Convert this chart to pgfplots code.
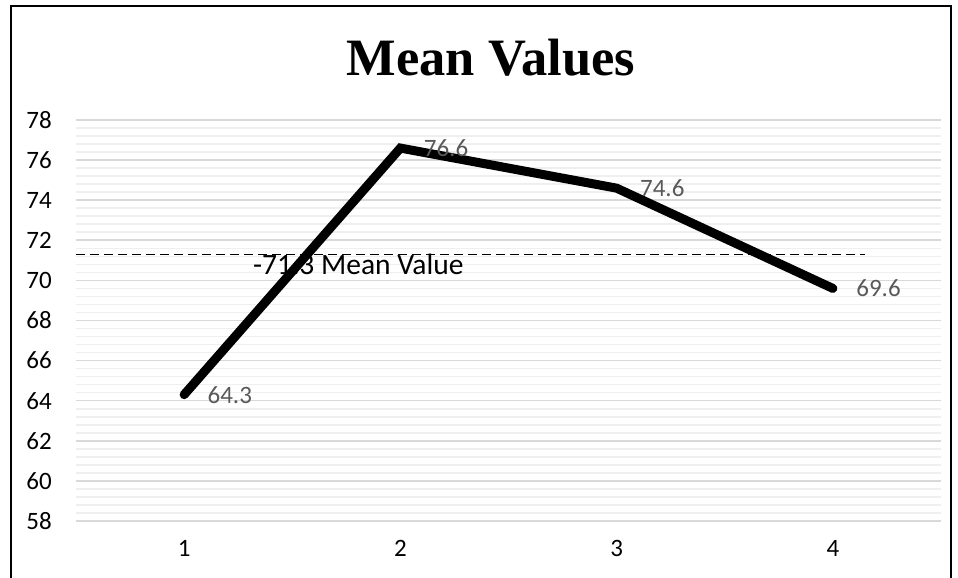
\documentclass[border=0pt]{standalone}
\usepackage{pgfplots}
\pgfplotsset{compat=1.18}
\usepackage{fontspec}
\setmainfont{Liberation Serif}
\newfontfamily\calibri{Carlito}
\definecolor{majgrid}{HTML}{D9D9D9}
\definecolor{mingrid}{HTML}{EFEFEF}
\definecolor{lbl}{HTML}{595959}
\begin{document}
\begin{tikzpicture}
\path[use as bounding box] (0,0) rectangle (958bp,578bp);
\draw[line width=2bp] (11bp,0bp) -- (11bp,571.5bp) -- (951bp,571.5bp) -- (951bp,0bp);
\node[font=\bfseries\fontsize{52.5bp}{52.5bp}\selectfont, anchor=base, inner sep=0pt] at (491bp,502bp) {Mean Values};
\begin{axis}[
  at={(76bp,57bp)}, anchor=south west,
  scale only axis, width=865bp, height=401bp,
  xmin=0.5, xmax=4.5, ymin=58, ymax=78,
  xtick={1,2,3,4}, ytick={58,60,...,78},
  minor y tick num=4,
  ymajorgrids, yminorgrids,
  major grid style={majgrid, line width=1.6bp},
  minor grid style={mingrid, line width=1.6bp},
  axis line style={draw=none},
  major tick length=0pt, minor tick length=0pt,
  tick style={draw=none},
  clip=false,
  /pgf/number format/assume math mode=true,
  ticklabel style={font=\calibri\fontsize{25bp}{25bp}\selectfont, text=black, inner sep=0pt},
  yticklabel style={anchor=east, xshift=-24bp},
  xticklabel style={anchor=north, yshift=-19bp},
]
\addplot[black, line width=1bp, dash pattern=on 9bp off 5bp] coordinates {(0.5,71.3) (4.15,71.3)};
\addplot[draw=none] coordinates {(1.318,70.27)} node[anchor=base west, inner sep=0pt, font=\calibri\fontsize{29.5bp}{29.5bp}\selectfont] {-71.3 Mean Value};
\addplot[black, line width=9bp, line cap=round, line join=miter,
  nodes near coords={\pgfmathprintnumber[fixed,fixed zerofill,precision=1]{\pgfplotspointmeta}},
  every node near coord/.append style={anchor=west, inner sep=0pt, xshift=19bp, text=lbl, font=\calibri\fontsize{25bp}{25bp}\selectfont, /pgf/number format/assume math mode=true}]
  coordinates {(1,64.3) (2,76.6) (3,74.6) (4,69.6)};
\end{axis}
\end{tikzpicture}
\end{document}
